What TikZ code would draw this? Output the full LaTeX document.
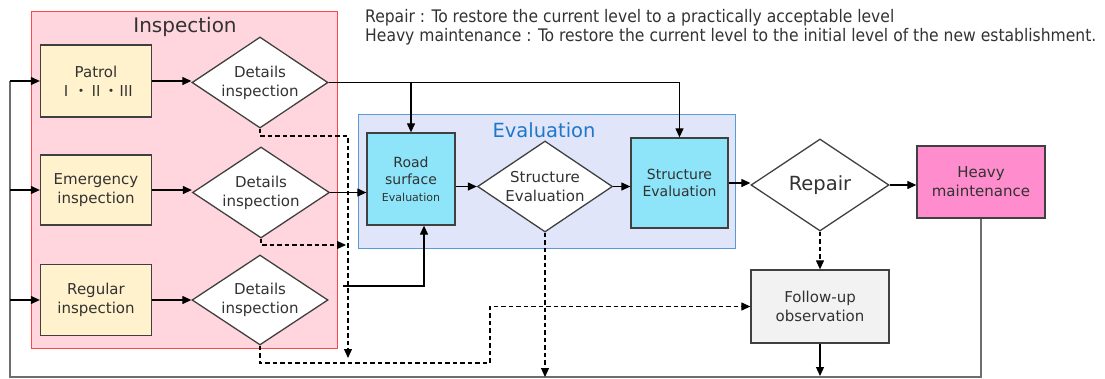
\documentclass[tikz,border=0pt]{standalone}
\usepackage{fontspec}
\setmainfont{DejaVu Sans}
\newfontfamily\condfont{DejaVu Sans Condensed}
\newfontfamily\jpfont{Noto Sans CJK JP}
\usetikzlibrary{arrows.meta,shapes.geometric}

\definecolor{inspbg}{RGB}{255,214,222}
\definecolor{inspline}{RGB}{255,70,70}
\definecolor{evalbg}{RGB}{224,229,250}
\definecolor{evalline}{RGB}{91,155,213}
\definecolor{evaltext}{RGB}{30,120,200}
\definecolor{patrolbg}{RGB}{255,242,204}
\definecolor{cyanbg}{RGB}{142,229,250}
\definecolor{heavybg}{RGB}{255,140,205}
\definecolor{followbg}{RGB}{242,242,242}
\definecolor{boxline}{RGB}{64,64,64}
\definecolor{txt}{RGB}{50,50,50}
\definecolor{fbline}{RGB}{110,110,110}

\begin{document}
\begin{tikzpicture}[x=1pt, y=-1pt, font=\fontsize{15}{19}\selectfont,
  box/.style={shape=rectangle, draw=boxline, line width=1.3pt, text=txt, align=center, inner sep=0pt},
  dia/.style={shape=diamond, draw=boxline, fill=white, line width=1.3pt, text=txt, align=center, inner sep=0pt, aspect=1.5},
  arr/.style={-{Triangle[length=9pt,width=8pt]}, line width=1.2pt, color=black},
  dsh/.style={arr, dash pattern=on 4.5pt off 3pt},
  fb/.style={line width=1.5pt, color=fbline}]
\useasboundingbox (0,0) rectangle (1105,378);
\node[shape=rectangle, draw=inspline, fill=inspbg, line width=1pt, minimum width=306, minimum height=337, inner sep=0pt] (insp) at (184,179.5) {};
\node[text=txt, font=\fontsize{20}{24}\selectfont] (inspT) at (185,27) {Inspection};
\node[shape=rectangle, draw=evalline, fill=evalbg, line width=1pt, minimum width=377, minimum height=134, inner sep=0pt] (eval) at (546.5,181) {};
\node[text=evaltext, font=\fontsize{19.5}{23}\selectfont] (evalT) at (544,130) {Evaluation};
\node[anchor=north west, align=left, inner sep=0pt, text=txt, font=\condfont\fontsize{17.3}{19}\selectfont] (note) at (365,9) {Repair : To restore the current level to a practically acceptable level\\Heavy maintenance : To restore the current level to the initial level of the new establishment.};

\node[box, fill=patrolbg, minimum width=111, minimum height=72] (patrol) at (96,81) {Patrol\\{\jpfont Ⅰ・Ⅱ・Ⅲ}};
\node[box, fill=patrolbg, minimum width=111, minimum height=70] (emerg) at (96,190) {Emergency\\inspection};
\node[box, fill=patrolbg, minimum width=111, minimum height=71] (regular) at (96,300) {Regular\\inspection};
\node[dia, minimum width=136, minimum height=91] (det1) at (260,82.5) {Details\\inspection};
\node[dia, minimum width=137, minimum height=91] (det2) at (261,192.5) {Details\\inspection};
\node[dia, minimum width=136, minimum height=90] (det3) at (260,300) {Details\\inspection};
\node[box, fill=cyanbg, minimum width=88, minimum height=92, font=\fontsize{14}{17}\selectfont] (road) at (411,179) {Road\\surface\\{\fontsize{11}{13}\selectfont Evaluation}};
\node[dia, minimum width=135, minimum height=91] (sdia) at (545,186.5) {Structure\\Evaluation};
\node[box, fill=cyanbg, minimum width=97, minimum height=90, font=\fontsize{14}{17}\selectfont] (sbox) at (679.5,183) {Structure\\Evaluation};
\node[dia, minimum width=138, minimum height=92, font=\fontsize{19.5}{23}\selectfont] (repair) at (820,185) {Repair};
\node[box, fill=heavybg, minimum width=128, minimum height=72] (heavy) at (981,182) {Heavy\\maintenance};
\node[box, fill=followbg, minimum width=138, minimum height=73] (follow) at (820,306.5) {Follow-up\\observation};

\coordinate (d1a) at (348,136);
\coordinate (d1b) at (348,358);
\coordinate (d2a) at (346,245);
\coordinate (d3a) at (490,363);
\coordinate (d3r) at (343,286);
\coordinate (sdE) at (545,377);
\coordinate (fuE) at (820,376);
\coordinate (fbL) at (10,377);
\coordinate (fbT) at (10,81);

\draw[fb] (heavy.south) |- (fbL) -- (fbT);
\draw[arr] (fbT) -- (patrol.west);
\draw[arr] (fbT |- emerg.west) -- (emerg.west);
\draw[arr] (fbT |- regular.west) -- (regular.west);
\draw[arr] (patrol.east) -- (patrol.east -| det1.west);
\draw[arr] (emerg.east) -- (emerg.east -| det2.west);
\draw[arr] (regular.east) -- (regular.east -| det3.west);
\draw[arr] (det1.east) -| (road.north);
\draw[arr] (det1.east) -| (sbox.north);
\draw[arr] (det2.east) -- (det2.east -| road.west);
\draw[arr] (d3r) -| ([xshift=13pt]road.south);
\draw[arr] (sdia.west -| road.east) -- (sdia.west);
\draw[arr] (sdia.east) -- (sdia.east -| sbox.west);
\draw[arr] (sbox.east) -- (sbox.east -| repair.west);
\draw[arr] (repair.east) -- (repair.east -| heavy.west);
\draw[dsh] (det1.south) |- (d1a) -- (d1b);
\draw[dsh] (det2.south) |- (d2a);
\draw[dsh] (det3.south) |- (d3a) |- (follow.west);
\draw[dsh] (sdia.south) -- (sdE);
\draw[dsh] (repair.south) -- (follow.north);
\draw[arr] (follow.south) -- (fuE);
\end{tikzpicture}
\end{document}
